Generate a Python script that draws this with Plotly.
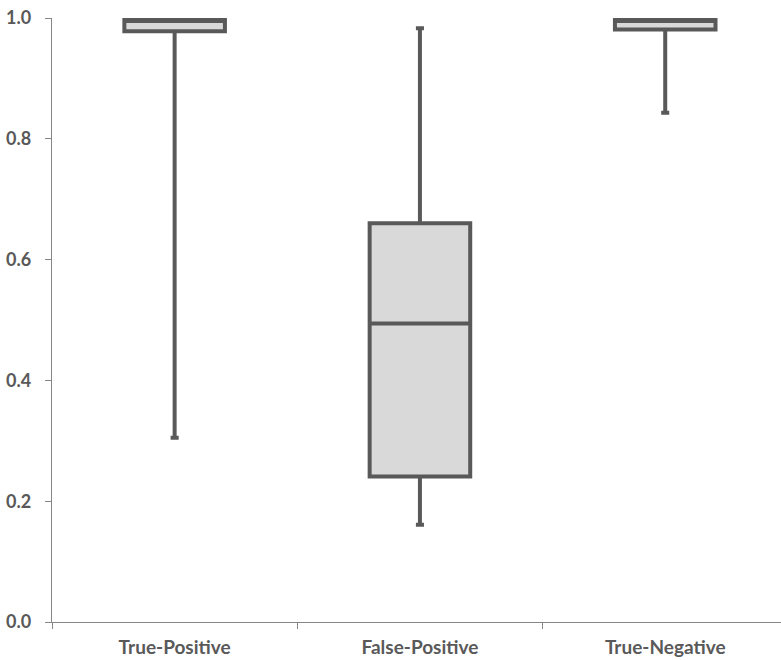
import plotly.graph_objects as go

# Classification score distributions per outcome group
categories = ["True-Positive", "False-Positive", "True-Negative"]
lower_whisker = [0.305, 0.161, 0.843]
q1_values = [0.978, 0.241, 0.981]
medians = [0.995, 0.494, 0.995]
q3_values = [1.0, 0.660, 1.0]
upper_whisker = [1.0, 0.983, 1.0]
y_ticks = [0.0, 0.2, 0.4, 0.6, 0.8, 1.0]
y_tick_labels = ["0.0", "0.2", "0.4", "0.6", "0.8", "1.0"]

text_color = "#595959"
axis_color = "#868686"

fig = go.Figure()
fig.add_trace(go.Box(
    x=categories,
    q1=q1_values,
    median=medians,
    q3=q3_values,
    lowerfence=lower_whisker,
    upperfence=upper_whisker,
    fillcolor="#d9d9d9",
    line=dict(color="#595959", width=4),
    width=0.41,
    whiskerwidth=0.08,
    boxpoints=False,
    hoverinfo="skip",
    showlegend=False,
))

fig.update_layout(
    width=781,
    height=660,
    margin=dict(l=52, r=0, t=18, b=38),
    paper_bgcolor="white",
    plot_bgcolor="white",
    font=dict(family="Lato", size=18, color=text_color),
    xaxis=dict(
        type="category",
        range=[-0.5, 2.472],
        showgrid=False,
        showline=True,
        linecolor=axis_color,
        linewidth=1.3,
        ticks="outside",
        tickson="boundaries",
        ticklen=6,
        tickcolor=axis_color,
        ticklabelstandoff=8,
        tickfont=dict(family="Lato", size=19, color=text_color, weight="bold"),
        zeroline=False,
    ),
    yaxis=dict(
        range=[0, 1.0],
        tickvals=y_ticks,
        ticktext=y_tick_labels,
        showgrid=False,
        showline=True,
        linecolor=axis_color,
        linewidth=1.3,
        ticks="outside",
        ticklen=6,
        tickcolor=axis_color,
        ticklabelstandoff=10,
        tickfont=dict(family="Lato", size=18, color=text_color, weight="bold"),
        zeroline=False,
    ),
)

fig.write_html("out.html")
